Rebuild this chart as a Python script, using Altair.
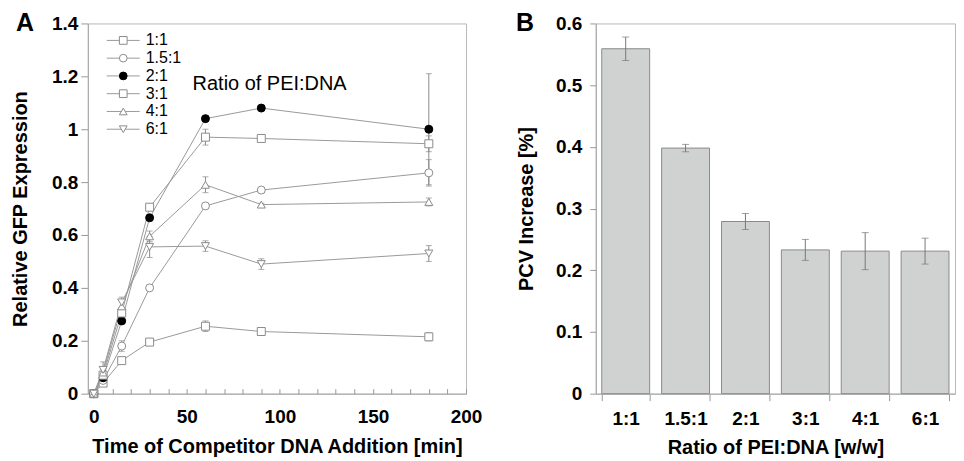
import altair as alt
import pandas as pd

# ---------------- Panel A data ----------------
times = [0, 5, 15, 30, 60, 90, 180]
series_names = ["1:1", "1.5:1", "2:1", "3:1", "4:1", "6:1"]

expr_1_1 = [0, 0.04, 0.125, 0.195, 0.255, 0.235, 0.215]
expr_15_1 = [0, 0.05, 0.18, 0.40, 0.71, 0.77, 0.835]
expr_2_1 = [0, 0.06, 0.275, 0.665, 1.04, 1.08, 1.0]
expr_3_1 = [0, 0.07, 0.305, 0.705, 0.97, 0.965, 0.945]
expr_4_1 = [0, 0.08, 0.33, 0.595, 0.79, 0.715, 0.725]
expr_6_1 = [0, 0.09, 0.345, 0.555, 0.558, 0.49, 0.53]

err_1_1 = [0, 0.01, 0.01, 0.01, 0.02, 0.01, 0.015]
err_15_1 = [0, 0.01, 0.02, 0.01, 0.01, 0.01, 0.05]
err_2_1 = [0, 0.01, 0.01, 0.01, 0.01, 0.01, 0.21]
err_3_1 = [0, 0.01, 0.02, 0.01, 0.03, 0.01, 0.03]
err_4_1 = [0, 0.01, 0.02, 0.02, 0.03, 0.005, 0.015]
err_6_1 = [0, 0.03, 0.02, 0.04, 0.02, 0.02, 0.03]

series_values = [expr_1_1, expr_15_1, expr_2_1, expr_3_1, expr_4_1, expr_6_1]
series_errors = [err_1_1, err_15_1, err_2_1, err_3_1, err_4_1, err_6_1]

# ---------------- Panel B data ----------------
ratios = ["1:1", "1.5:1", "2:1", "3:1", "4:1", "6:1"]
pcv = [0.559, 0.398, 0.279, 0.233, 0.231, 0.231]
pcv_err = [0.019, 0.006, 0.013, 0.017, 0.03, 0.021]

rows = []
for name, vals, errs in zip(series_names, series_values, series_errors):
    for t, v, e in zip(times, vals, errs):
        rows.append({"series": name, "time": t, "value": v, "lo": v - e, "hi": v + e})
df_a = pd.DataFrame(rows)
df_leg = pd.DataFrame({"series": series_names})
df_b = pd.DataFrame({"ratio": ratios, "pcv": pcv,
                     "lo": [p - e for p, e in zip(pcv, pcv_err)],
                     "hi": [p + e for p, e in zip(pcv, pcv_err)]})

FONT = "Liberation Sans"
LINE = "#9a9a9a"
MK = "#8c8c8c"
LBL = 19
TTL = 20

shape_scale = alt.Scale(domain=series_names,
                        range=["square", "circle", "circle", "square", "triangle-up", "triangle-down"])
fill_scale = alt.Scale(domain=series_names,
                       range=["white", "white", "black", "white", "white", "white"])
stroke_scale = alt.Scale(domain=series_names,
                         range=[MK, MK, "black", MK, MK, MK])

WA, HA = 379, 371
ydom_a = alt.Scale(domain=[0, 1.4], nice=False)
xdom_a = alt.Scale(domain=[-3.2, 200], nice=False)

x_main = alt.X("time:Q", scale=xdom_a,
               axis=alt.Axis(values=[0, 50, 100, 150, 200], ticks=False, labelPadding=14,
                             labelFlush=False,
                             title="Time of Competitor DNA Addition [min]", titlePadding=10,
                             format="d", orient="bottom"))
x_ticks = alt.X("time:Q", scale=xdom_a,
                axis=alt.Axis(values=list(range(0, 201, 10)), labels=False, domain=False,
                              tickSize=5, offset=-5, title=None, orient="bottom"))
y_main = alt.Y("value:Q", scale=ydom_a,
               axis=alt.Axis(values=[0, 0.2, 0.4, 0.6, 0.8, 1.0, 1.2, 1.4], format="~g",
                             labelFlush=False,
                             tickSize=7, labelPadding=3, title="Relative GFP Expression",
                             titlePadding=21))

base_a = alt.Chart(df_a)
lines = base_a.mark_line(color=LINE, strokeWidth=1).encode(
    x=x_main, y=y_main, detail="series:N")
errs = base_a.transform_filter("datum.hi > datum.lo").mark_errorbar(
    ticks={"size": 6}, color=MK, thickness=1).encode(
    x=alt.X("time:Q", scale=xdom_a, axis=None),
    y=alt.Y("lo:Q", scale=ydom_a, axis=None, title=""),
    y2="hi:Q")
points = base_a.mark_point(filled=True, size=64, strokeWidth=1, opacity=1).encode(
    x=x_ticks,
    y=alt.Y("value:Q", scale=ydom_a, axis=None),
    shape=alt.Shape("series:N", scale=shape_scale, legend=None),
    fill=alt.Fill("series:N", scale=fill_scale, legend=None),
    stroke=alt.Stroke("series:N", scale=stroke_scale, legend=None))

leg_y = alt.Y("series:N", scale=alt.Scale(type="point", domain=series_names, range=[17, 106], padding=0),
              axis=None)
base_leg = alt.Chart(df_leg)
leg_rule = base_leg.mark_rule(color=LINE, strokeWidth=1).encode(
    x=alt.value(19), x2=alt.value(52), y=leg_y)
leg_pt = base_leg.mark_point(filled=True, size=60, strokeWidth=1, opacity=1).encode(
    x=alt.value(35.5), y=leg_y,
    shape=alt.Shape("series:N", scale=shape_scale, legend=None),
    fill=alt.Fill("series:N", scale=fill_scale, legend=None),
    stroke=alt.Stroke("series:N", scale=stroke_scale, legend=None))
leg_txt = base_leg.mark_text(align="left", baseline="middle", font=FONT, fontSize=16,
                             color="black").encode(
    x=alt.value(58), y=leg_y, text="series:N")

ratio_label = alt.Chart(pd.DataFrame({"t": ["Ratio of PEI:DNA"]})).mark_text(
    align="left", baseline="middle", font=FONT, fontSize=20, color="black").encode(
    x=alt.value(105), y=alt.value(61), text="t:N")
letter_a = alt.Chart(pd.DataFrame({"t": ["A"]})).mark_text(
    align="center", baseline="middle", font=FONT, fontSize=25, fontWeight="bold",
    color="black").encode(x=alt.value(-63), y=alt.value(0), text="t:N")

panel_a = alt.layer(lines, errs, points, leg_rule, leg_pt, leg_txt, ratio_label, letter_a).resolve_scale(
    y="independent").resolve_axis(x="independent").properties(width=WA, height=HA)

# ---------------- Panel B ----------------
WB, HB = 360, 371
ydom_b = alt.Scale(domain=[0, 0.6], nice=False)
xb = alt.X("ratio:N", sort=ratios, scale=alt.Scale(paddingInner=0.2, paddingOuter=0.1),
           axis=alt.Axis(labelAngle=0, tickBand="extent", tickSize=7, labelPadding=9,
                         title="Ratio of PEI:DNA [w/w]", titlePadding=9))
base_b = alt.Chart(df_b)
bars = base_b.mark_bar(fill="#d0d2d1", stroke="#8a8a8a", strokeWidth=1).encode(
    x=xb,
    y=alt.Y("pcv:Q", scale=ydom_b,
            axis=alt.Axis(values=[0, 0.1, 0.2, 0.3, 0.4, 0.5, 0.6], format="~g", tickSize=6,
                          labelFlush=False,
                          labelPadding=8, title="PCV Increase [%]", titlePadding=19)))
errs_b = base_b.mark_errorbar(ticks={"size": 7}, color="#777", thickness=1).encode(
    x=alt.X("ratio:N", sort=ratios),
    y=alt.Y("lo:Q", scale=ydom_b, title="PCV Increase [%]"),
    y2="hi:Q")
letter_b = alt.Chart(pd.DataFrame({"t": ["B"]})).mark_text(
    align="center", baseline="middle", font=FONT, fontSize=25, fontWeight="bold",
    color="black").encode(x=alt.value(-71), y=alt.value(0), text="t:N")
panel_b = alt.layer(bars, errs_b, letter_b).properties(width=WB, height=HB)

chart = alt.hconcat(panel_a, panel_b, spacing=32).properties(
    padding={"left": 2, "top": 2, "right": 0, "bottom": 0}
).configure_view(stroke="#b8b8b8").configure_axis(
    grid=False, domainColor="#a8a8a8", tickColor="#999999",
    labelFont=FONT, labelFontWeight="bold", labelFontSize=LBL, labelColor="black",
    titleFont=FONT, titleFontWeight="bold", titleFontSize=TTL, titleColor="black")

chart.save("out.html", embed_options={"renderer": "svg", "actions": False})
